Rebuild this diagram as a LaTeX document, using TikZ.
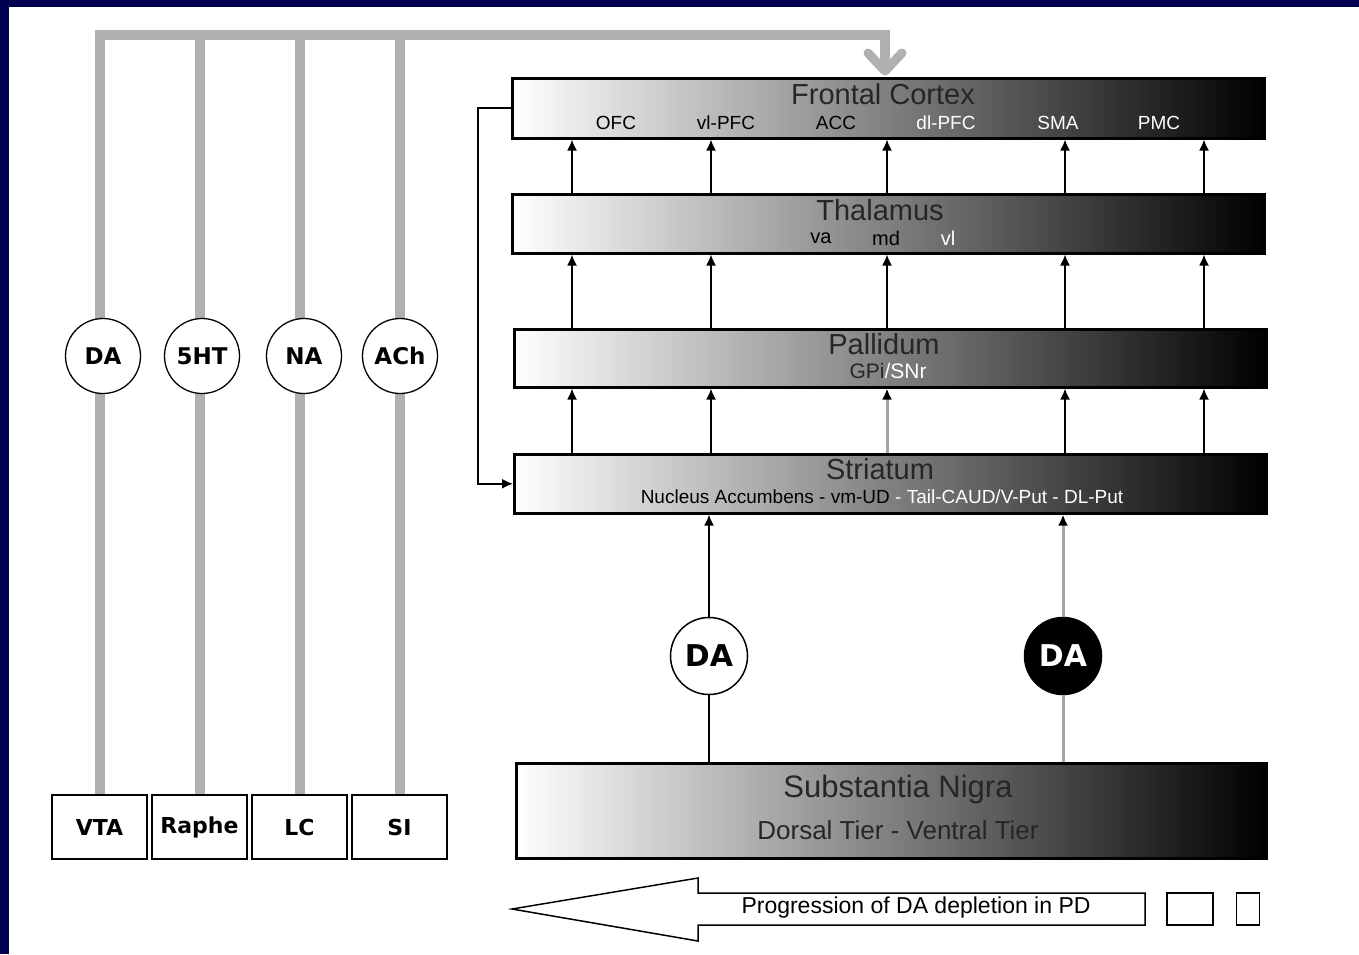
\documentclass[tikz,border=0pt]{standalone}
\usepackage{fontspec}
\setmainfont{Liberation Sans}
\newfontfamily\djv{DejaVu Sans}
\usetikzlibrary{arrows.meta}
\definecolor{navy}{RGB}{0,0,80}
\definecolor{busgray}{RGB}{176,176,176}
\definecolor{lgray}{RGB}{165,165,165}
\begin{document}
\begin{tikzpicture}[x=1pt,y=-1pt,
  bar/.style={draw=black,line width=2.5pt,left color=white,middle color=black!40,right color=black,anchor=north west,inner sep=0pt},
  ttl/.style={text=black!85,font=\fontsize{29}{30}\selectfont,inner sep=0pt},
  sub/.style={font=\fontsize{19}{20}\selectfont,inner sep=0pt},
  bus/.style={draw=busgray,line width=10pt,line join=miter},
  srcbox/.style={draw=black,line width=2.5pt,fill=white,minimum width=95pt,minimum height=64pt,inner sep=0pt,font=\djv\bfseries\fontsize{22}{22}\selectfont},
  nt/.style={circle,draw=black,line width=1.3pt,fill=white,minimum size=75pt,inner sep=0pt,font=\djv\bfseries\fontsize{23}{23}\selectfont},
  dac/.style={circle,draw=black,line width=1.5pt,fill=white,minimum size=77pt,inner sep=0pt,font=\djv\bfseries\fontsize{30}{30}\selectfont},
  dab/.style={dac,fill=black,text=white},
  conn/.style={draw=black,line width=1.8pt,-{Latex[length=11pt,width=10pt]}},
  plainline/.style={draw=black,line width=1.8pt},
  gconn/.style={draw=lgray,line width=3pt,-{Latex[black,length=11pt,width=10pt]}},
  gline/.style={draw=lgray,line width=3pt},
  outline/.style={draw=black,line width=1.5pt}
]
\useasboundingbox (0,0) rectangle (1359,954);
\fill[white] (0,0) rectangle (1359,954);
\fill[navy] (0,0) rectangle (1359,7);
\fill[navy] (0,0) rectangle (9,954);

% source boxes
\node[srcbox] (vta) at (99.5,827) {VTA};
\node[srcbox] (raphe) at (199.5,827) {Raphe};
\node[srcbox] (lc) at (299.5,827) {LC};
\node[srcbox] (si) at (399.5,827) {SI};

% gray bus
\coordinate (t1) at (99.5,35);
\coordinate (t2) at (199.5,35);
\coordinate (t3) at (299.5,35);
\coordinate (t4) at (399.5,35);
\coordinate (t5) at (885,35);
\coordinate (fcin) at (885,71);
\draw[bus] (vta.north) -- (t1) -- (t5) -- (fcin);
\draw[bus] (raphe.north) -- (t2);
\draw[bus] (lc.north) -- (t3);
\draw[bus] (si.north) -- (t4);
\draw[bus,line width=9pt,line join=round,line cap=round] (868,53) -- (fcin) -- (902,53);

% transmitter circles
\node[nt] (c1) at (103,356) {DA};
\node[nt] (c2) at (202,356) {5HT};
\node[nt] (c3) at (304,356) {NA};
\node[nt] (c4) at (400,356) {ACh};

% bars
\node[bar,minimum width=752pt,minimum height=60pt] (fc) at (511,77) {};
\node[bar,minimum width=752pt,minimum height=59pt] (th) at (511,193) {};
\node[bar,minimum width=752pt,minimum height=58pt] (pa) at (513,328) {};
\node[bar,minimum width=752pt,minimum height=59pt] (st) at (513,453) {};
\node[bar,minimum width=750pt,minimum height=95pt] (sn) at (515,762) {};

% bar labels
\node[ttl] (fct) at (883,94) {Frontal Cortex};
\node[sub] (ofc) at (616,123) {OFC};
\node[sub] (vlpfc) at (726,123) {vl-PFC};
\node[sub] (acc) at (836,123) {ACC};
\node[sub,text=white] (dlpfc) at (946,123) {dl-PFC};
\node[sub,text=white] (sma) at (1058,123) {SMA};
\node[sub,text=white] (pmc) at (1159,123) {PMC};

\node[ttl] (tht) at (880,210) {Thalamus};
\node[sub,font=\fontsize{20}{20}\selectfont] (va) at (821,238) {va};
\node[sub,font=\fontsize{20}{20}\selectfont] (md) at (886,238) {md};
\node[sub,font=\fontsize{20}{20}\selectfont,text=white] (vl) at (948,238) {vl};

\node[ttl] (pat) at (884,344) {Pallidum};
\node[sub,font=\fontsize{21}{21}\selectfont] (gpi) at (888,371) {{\color{black!85}GPi}{\color{white}/SNr}};

\node[ttl] (stt) at (880,469) {Striatum};
\node[sub] (stsub) at (882,497) {{\color{black}Nucleus Accumbens - vm-UD}{\color{white}\ - Tail-CAUD/V-Put - DL-Put}};

\node[ttl,font=\fontsize{31}{31}\selectfont] (snt) at (898,789) {Substantia Nigra};
\node[ttl,font=\fontsize{26}{26}\selectfont] (snsub) at (898,830) {Dorsal Tier - Ventral Tier};

% columns
\coordinate (k1) at (572,0);
\coordinate (k2) at (711,0);
\coordinate (k3) at (887,0);
\coordinate (k4) at (1065,0);
\coordinate (k5) at (1204,0);
\foreach \k in {k1,k2,k3,k4,k5}{
  \draw[conn] (\k |- th.north) -- (\k |- fc.south);
  \draw[conn] (\k |- pa.north) -- (\k |- th.south);
}
\draw[conn] (k1 |- st.north) -- (k1 |- pa.south);
\draw[conn] (k2 |- st.north) -- (k2 |- pa.south);
\draw[gconn] (k3 |- st.north) -- (k3 |- pa.south);
\draw[conn] (k4 |- st.north) -- (k4 |- pa.south);
\draw[conn] (k5 |- st.north) -- (k5 |- pa.south);

% feedback
\draw[conn] (fc.west) -- ++(-33,0) |- (st.west);

% DA from substantia nigra
\node[dac] (da5) at (709,656) {DA};
\node[dab] (da6) at (1063,656) {DA};
\draw[conn] (da5.north) -- (da5.north |- st.south);
\draw[plainline] (da5.south) -- (da5.south |- sn.north);
\draw[gconn] (da6.north) -- (da6.north |- st.south);
\draw[gline] (da6.south) -- (da6.south |- sn.north);

% progression arrow
\draw[outline] (512,909) -- (698,878) -- (698,893) -- (1145,893) -- (1145,925) -- (698,925) -- (698,941) -- cycle;
\node[inner sep=0pt,font=\fontsize{23}{23}\selectfont] (prog) at (916,908) {Progression of DA depletion in PD};
\node[outline,minimum width=46pt,minimum height=32pt,inner sep=0pt] (sq1) at (1190,909) {};
\node[outline,minimum width=23pt,minimum height=32pt,inner sep=0pt] (sq2) at (1248,909) {};
\end{tikzpicture}
\end{document}
